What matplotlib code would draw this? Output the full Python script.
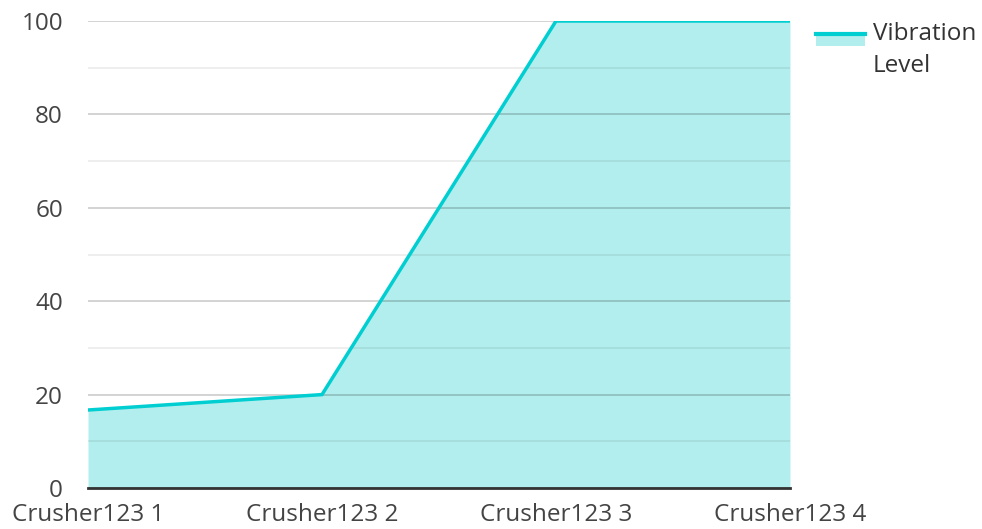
import matplotlib
matplotlib.use("Agg")
import matplotlib.pyplot as plt
from matplotlib.lines import Line2D
from matplotlib.patches import Rectangle
import numpy as np

plt.rcParams['font.family'] = ['Open Sans', 'DejaVu Sans']

categories = ["Crusher123 1", "Crusher123 2", "Crusher123 3", "Crusher123 4"]
values = [16.7, 20, 100, 100]
series_name = "Vibration\nLevel"
line_color = "#00CED1"
fill_color = "#B2EEEE"

W, H = 982, 529
fig = plt.figure(figsize=(W/100, H/100), dpi=100)
ax = fig.add_axes([88/W, 41/H, 702/W, 467/H])

x = np.arange(len(categories))
ax.fill_between(x, values, 0, color=fill_color, zorder=1, linewidth=0)
ax.plot(x, values, color=line_color, linewidth=2.5, zorder=3, solid_joinstyle='miter')

ax.set_xlim(0, len(categories) - 1)
ax.set_ylim(0, 100)
ax.set_yticks(np.arange(0, 101, 20))
ax.set_yticks(np.arange(10, 100, 20), minor=True)
ax.set_xticks(x)
ax.set_xticklabels(categories)

ax.grid(axis='y', which='major', color='#000000', alpha=0.2, linewidth=1.2, zorder=2)
ax.grid(axis='y', which='minor', color='#000000', alpha=0.08, linewidth=1.2, zorder=2)
ax.grid(axis='x', visible=False)

for s in ['top', 'right', 'left']:
    ax.spines[s].set_visible(False)
ax.spines['bottom'].set_color('#333333')
ax.spines['bottom'].set_linewidth(2)
ax.spines['bottom'].set_zorder(4)

ax.tick_params(axis='both', which='both', length=0, labelsize=17.5, labelcolor='#444444')
ax.tick_params(axis='y', pad=18)
ax.tick_params(axis='x', pad=11)

def fx(px):
    return px / W

def fy(py):
    return 1 - py / H

fig.patches.append(Rectangle((fx(816), fy(46)), fx(865) - fx(816), fy(33) - fy(46),
                             transform=fig.transFigure, facecolor=fill_color,
                             edgecolor='none'))
fig.lines.append(Line2D([fx(816), fx(865)], [fy(34), fy(34)], transform=fig.transFigure,
                        color=line_color, linewidth=3))
fig.text(fx(873), fy(72), series_name, fontsize=17.5, color='#333333',
         ha='left', va='baseline', linespacing=1.42)

fig.savefig("out.png", dpi=100)
